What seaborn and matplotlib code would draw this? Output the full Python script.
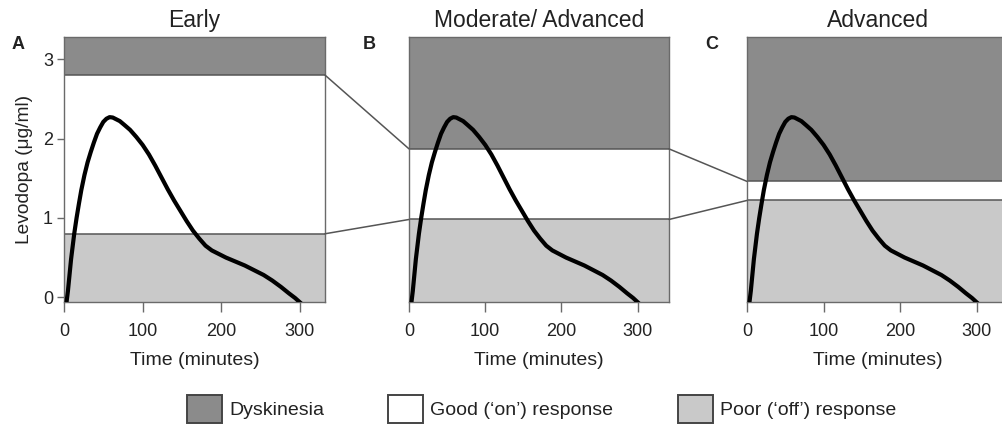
import numpy as np
import pandas as pd
import matplotlib
matplotlib.use("Agg")
import matplotlib.pyplot as plt
import seaborn as sns
from matplotlib.patches import Patch, ConnectionPatch

# ---------------- data ----------------
stages = ["Early", "Moderate/ Advanced", "Advanced"]
panel_letters = ["A", "B", "C"]
dyskinesia_threshold = [2.80, 1.87, 1.46]   # upper limit of good 'on' response
poor_threshold = [0.80, 0.98, 1.22]          # lower limit of good 'on' response

time_min = [3, 5, 7, 9, 11, 13, 16, 19, 22, 26, 30, 34, 38, 42, 46, 50, 54, 58,
            62, 66, 71, 77, 84, 92, 100, 108, 116, 124, 132, 140, 148, 156, 164,
            172, 180, 188, 196, 206, 218, 230, 242, 254, 265, 276, 286, 294, 303]
levodopa = [-0.08, 0.08, 0.28, 0.48, 0.64, 0.80, 1.00, 1.18, 1.35, 1.54, 1.70,
            1.83, 1.95, 2.06, 2.14, 2.21, 2.25, 2.27, 2.265, 2.245, 2.22, 2.17,
            2.11, 2.02, 1.92, 1.80, 1.66, 1.51, 1.36, 1.22, 1.09, 0.96, 0.84,
            0.74, 0.65, 0.59, 0.55, 0.50, 0.45, 0.40, 0.34, 0.28, 0.21, 0.13,
            0.05, -0.01, -0.09]

x_ticks = [0, 100, 200, 300]
y_ticks = [0, 1, 2, 3]
legend_labels = ["Dyskinesia", "Good (\u2018on\u2019) response", "Poor (\u2018off\u2019) response"]

# ---------------- style ----------------
sns.set_theme(style="white")
plt.rcParams["font.family"] = ["Liberation Sans", "DejaVu Sans"]

DARK = "#8b8b8b"
LIGHT = "#c9c9c9"
EDGE = "#555555"
SPINE = "#6a6a6a"
TXT = "#222222"

W, H = 1002, 428
fig = plt.figure(figsize=(W / 100, H / 100), dpi=100)

top_px, bot_px = 37, 302
axes_px = [(64, 261, 332), (409, 260, 341), (747, 261, 341)]

df = pd.DataFrame({"time": time_min, "levodopa": levodopa})

axes = []
for i, (left, width, xmax) in enumerate(axes_px):
    ax = fig.add_axes([left / W, 1 - bot_px / H, width / W, (bot_px - top_px) / H])
    ax.set_xlim(0, xmax)
    ax.set_ylim(-0.06, 3.28)
    # response zones
    ax.axhspan(dyskinesia_threshold[i], 10, color=DARK, lw=0, zorder=0)
    ax.axhspan(-10, poor_threshold[i], color=LIGHT, lw=0, zorder=0)
    ax.axhline(dyskinesia_threshold[i], color=EDGE, lw=1.1, zorder=1)
    ax.axhline(poor_threshold[i], color=EDGE, lw=1.1, zorder=1)
    sns.lineplot(data=df, x="time", y="levodopa", ax=ax, color="black",
                 lw=3.0, sort=False, estimator=None, zorder=3)
    ax.set_xticks(x_ticks)
    ax.set_xticklabels([str(t) for t in x_ticks])
    ax.tick_params(axis="x", direction="out", length=7, width=1, color=SPINE,
                   pad=8, labelsize=13, labelcolor=TXT, bottom=True)
    if i == 0:
        ax.set_yticks(y_ticks)
        ax.set_yticklabels([str(t) for t in y_ticks])
        ax.tick_params(axis="y", direction="out", length=5, width=1, color=SPINE,
                       pad=3, labelsize=13, labelcolor=TXT, left=True)
        ax.set_ylabel("Levodopa (\u03bcg/ml)", fontsize=13.8, color=TXT, labelpad=7)
    else:
        ax.set_yticks([])
        ax.set_ylabel("")
    ax.set_xlabel("Time (minutes)", fontsize=14, color=TXT, labelpad=9)
    ax.set_title(stages[i], fontsize=16.5, color=TXT, pad=7)
    for s in ax.spines.values():
        s.set_color(SPINE)
        s.set_linewidth(1.0)
        s.set_visible(True)
    axes.append(ax)

# panel letters
for letter, xpx in zip(panel_letters, [12, 363, 705]):
    fig.text(xpx / W, 1 - 36 / H, letter, fontsize=13, fontweight="bold",
             color=TXT, va="top", ha="left")

# connector lines between panels
for i in range(2):
    a, b = axes[i], axes[i + 1]
    for th in (dyskinesia_threshold, poor_threshold):
        con = ConnectionPatch(xyA=(a.get_xlim()[1], th[i]), coordsA=a.transData,
                              xyB=(0, th[i + 1]), coordsB=b.transData,
                              color=EDGE, lw=1.1)
        fig.add_artist(con)

# legend
handles = [Patch(facecolor=c, edgecolor="#444444", lw=1.4) for c in (DARK, "white", LIGHT)]
leg = fig.legend(handles, legend_labels, loc="center", ncol=3,
                 bbox_to_anchor=(541.5 / W, 1 - 409 / H), frameon=False,
                 fontsize=14, handlelength=1.8, handleheight=1.8,
                 handletextpad=0.36, columnspacing=3.3, labelcolor=TXT)

fig.savefig("out.png", dpi=100)
